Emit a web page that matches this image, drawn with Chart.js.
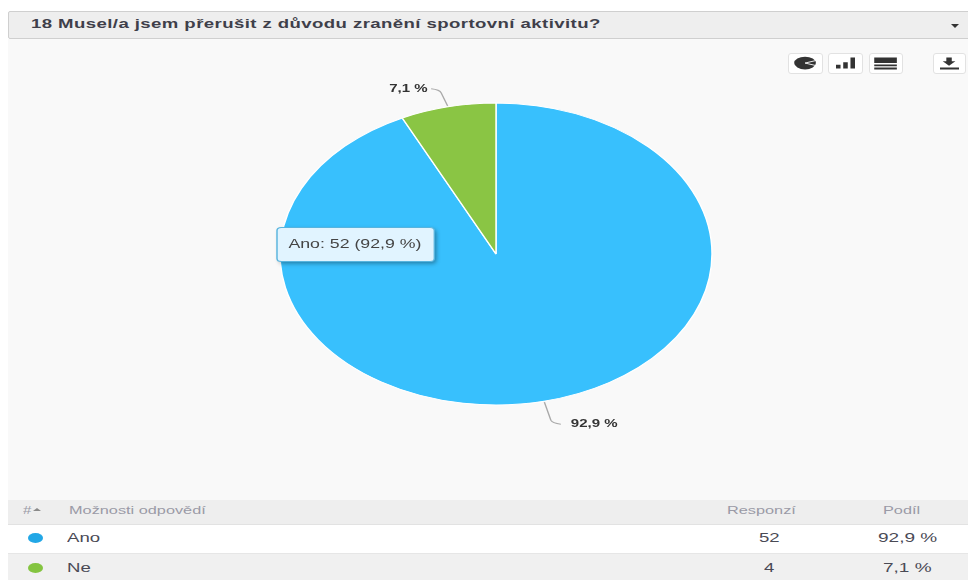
<!DOCTYPE html>
<html lang="cs">
<head>
<meta charset="utf-8">
<title>18 Musel/a jsem přerušit z důvodu zranění sportovní aktivitu?</title>
<script src="https://cdn.jsdelivr.net/npm/chart.js@4"></script>
<style>
  html, body { margin: 0; padding: 0; width: 968px; height: 580px; overflow: hidden; background: #fff; }
  body { position: relative; font-family: "Liberation Sans", Arial, sans-serif; color: #444; }
  .box { position: absolute; }
  .wide { position: absolute; white-space: nowrap; transform: scaleX(1.43); transform-origin: 0 50%; line-height: 16px; }
  #panel { left: 8px; top: 39px; width: 960px; height: 461px; background: #f9f9f9; }
  #head { left: 8px; top: 11px; width: 962px; height: 28px; background: #eeeeee; border: 1px solid #cfcfcf; border-radius: 2px; box-sizing: border-box; }
  #caret { left: 951px; top: 24px; width: 0; height: 0; border: 4px solid transparent; border-top: 4px solid #333; border-bottom: 0; }
  .btn { top: 53px; height: 21px; background: #fff; border: 1px solid #e2e2e2; border-radius: 3px; box-sizing: border-box; }
  .btn svg { display: block; width: 100%; height: 100%; }
  #thead { left: 8px; top: 500px; width: 960px; height: 25px; background: #eeeeee; border-bottom: 1px solid #e2e2e2; box-sizing: border-box; }
  #r0 { left: 8px; top: 525px; width: 960px; height: 29px; background: #fff; border-bottom: 1px solid #e6e6e6; box-sizing: border-box; }
  #r1 { left: 8px; top: 554px; width: 960px; height: 26px; background: #f0f0f0; }
  .dot { position: absolute; width: 15px; height: 10px; border-radius: 50%; }
  canvas { position: absolute; left: 0; top: 0; }
</style>
</head>
<body>
<div class="box" id="panel"></div>
<div class="box" id="head"></div>
<div class="wide" id="qtitle" style="left:31px;top:16px;font-size:13px;font-weight:bold;letter-spacing:0.29px;color:#3f3f4a"></div>
<div class="box" id="caret"></div>

<div class="box btn" style="left:788px;width:35px"><svg viewBox="0 0 35 21"><ellipse cx="17" cy="10" rx="12" ry="7" fill="#333"/><path d="M17 10 L30 7 M17 10 L30 13" stroke="#fff" stroke-width="1"/></svg></div>
<div class="box btn" style="left:828px;width:35px"><svg viewBox="0 0 35 21"><path d="M7 12h5v4H7zM15 9h5v7h-5zM23 4h5v12h-5z" fill="#333"/></svg></div>
<div class="box btn" style="left:869px;width:34px"><svg viewBox="0 0 34 21"><path d="M4 4h25v6H4zM4 11.5h25v2H4zM4 15h25v2H4z" fill="#333"/></svg></div>
<div class="box btn" style="left:933px;width:33px"><svg viewBox="0 0 33 21"><path d="M13 4h6v4h4l-7 5-7-5h4zM6 15h21v2H6z" fill="#333"/></svg></div>

<div class="box" id="thead"></div>
<div class="box" id="r0"></div>
<div class="box" id="r1"></div>
<div id="tableText"></div>

<canvas id="pie" width="968" height="580"></canvas>

<script>
// Survey question and answers
const question = "18 Musel/a jsem přerušit z důvodu zranění sportovní aktivitu?";
const categories = ["Ano", "Ne"];
const responses = [52, 4];
const shares = ["92,9 %", "7,1 %"];
const sliceColors = ["#38c0fd", "#8ac544"];
const dotColors = ["#22a7e6", "#84c440"];
const tableHeaders = ["#", "Možnosti odpovědí", "Responzí", "Podíl"];

// The whole drawing is wider than it is tall by this factor
const STRETCH = 216 / 151;

document.getElementById("qtitle").textContent = question;

// Results table below the chart
const tableText = document.getElementById("tableText");
function addText(text, left, centerY, size, color) {
  const el = document.createElement("div");
  el.className = "wide";
  el.textContent = text;
  el.style.left = left + "px";
  el.style.top = (centerY - 8) + "px";
  el.style.fontSize = size + "px";
  el.style.color = color;
  tableText.appendChild(el);
}
const headColor = "#9a9aa6";
addText(tableHeaders[0], 23, 510, 10.5, headColor);
addText(tableHeaders[1], 69, 510, 11.4, headColor);
addText(tableHeaders[2], 727, 510, 11.4, headColor);
addText(tableHeaders[3], 883, 510, 11.4, headColor);
const sortArrow = document.createElement("div");
sortArrow.className = "box";
sortArrow.style.cssText = "left:33px;top:508px;width:0;height:0;border:4px solid transparent;border-bottom:3px solid #8a8a8a;border-top:0";
tableText.appendChild(sortArrow);

const rowY = [538, 568];
const dotY = [538, 568];
const valueX = [759, 764];
const shareX = [878, 883];
categories.forEach((name, i) => {
  const dot = document.createElement("div");
  dot.className = "dot";
  dot.style.left = "28px";
  dot.style.top = (dotY[i] - 5) + "px";
  dot.style.background = dotColors[i];
  tableText.appendChild(dot);
  addText(name, 67, rowY[i], 13, "#4a4a55");
  addText(String(responses[i]), valueX[i], rowY[i], 13, "#4a4a55");
  addText(shares[i], shareX[i], rowY[i], 13.3, "#4a4a55");
});

// Fixed anchor for the tooltip box
Chart.Tooltip.positioners.fixedSpot = function () {
  return { x: 277 / STRETCH, y: 244.5 };
};

// Applies the horizontal stretch to everything the chart paints
const stretchPlugin = {
  id: "stretch",
  beforeDraw(chart) {
    chart.ctx.save();
    chart.ctx.scale(STRETCH, 1);
  },
  afterDraw(chart) {
    chart.ctx.restore();
  }
};

// Leader lines and share labels beside the slices
const leaderDrop = [21, 16];
const leaderGap = [7, 2.5];
const leaderPlugin = {
  id: "leaders",
  afterDatasetsDraw(chart) {
    const ctx = chart.ctx;
    const arcs = chart.getDatasetMeta(0).data;
    arcs.forEach((arc, i) => {
      const mid = (arc.startAngle + arc.endAngle) / 2;
      const px = arc.x + Math.cos(mid) * (arc.outerRadius + 1);
      const py = arc.y + Math.sin(mid) * (arc.outerRadius + 1);
      const up = Math.sin(mid) < 0;
      const dy = up ? -1 : 1;
      const dir = up ? -1 : 1;
      const cornerX = px + dir * 5.5;
      const cornerY = py + dy * leaderDrop[i];
      const endX = cornerX + dir * 6;
      ctx.save();
      ctx.strokeStyle = "#a9a9a9";
      ctx.lineWidth = 1;
      ctx.beginPath();
      ctx.moveTo(px, py);
      ctx.lineTo(cornerX - dir * 1, cornerY - dy * 3);
      ctx.quadraticCurveTo(cornerX, cornerY, endX, cornerY + dy * 1);
      ctx.stroke();
      ctx.fillStyle = "#333";
      ctx.font = "bold 10.5px 'Liberation Sans', Arial, sans-serif";
      ctx.textBaseline = "middle";
      ctx.textAlign = up ? "right" : "left";
      ctx.fillText(shares[i], endX + dir * leaderGap[i], cornerY + dy * 1);
      ctx.restore();
    });
  },
  // Soft shadow under the tooltip box
  beforeTooltipDraw(chart, args) {
    const t = args.tooltip, ctx = chart.ctx;
    ctx.save();
    ctx.shadowColor = "rgba(0,0,0,0.35)";
    ctx.shadowBlur = 4;
    ctx.shadowOffsetX = 2;
    ctx.shadowOffsetY = 2;
    ctx.fillStyle = "#e1f4ff";
    ctx.beginPath();
    ctx.roundRect(t.x, t.y, t.width, t.height, 3);
    ctx.fill();
    ctx.restore();
  }
};

const chart = new Chart(document.getElementById("pie"), {
  type: "pie",
  data: {
    labels: categories,
    datasets: [{
      data: responses,
      backgroundColor: sliceColors,
      borderColor: "#ffffff",
      borderWidth: 1
    }]
  },
  options: {
    responsive: false,
    animation: false,
    events: [],
    layout: {
      padding: {
        top: 102.5,
        bottom: 174.5,
        left: 496 / STRETCH - 151.5,
        right: 968 - 496 / STRETCH - 151.5
      }
    },
    plugins: {
      legend: { display: false },
      title: { display: false },
      tooltip: {
        enabled: true,
        position: "fixedSpot",
        xAlign: "left",
        yAlign: "center",
        caretSize: 0,
        caretPadding: 0,
        cornerRadius: 3,
        displayColors: false,
        backgroundColor: "#e1f4ff",
        borderColor: "#58b4de",
        borderWidth: 1,
        bodyColor: "#444444",
        bodyFont: { family: "'Liberation Sans', Arial, sans-serif", size: 12.4 },
        padding: { top: 9.5, bottom: 9.5, left: 8, right: 9 },
        callbacks: {
          title: () => "",
          label: (item) => categories[item.dataIndex] + ": " + responses[item.dataIndex] + " (" + shares[item.dataIndex] + ")"
        }
      }
    }
  },
  plugins: [stretchPlugin, leaderPlugin]
});

chart.tooltip.setActiveElements([{ datasetIndex: 0, index: 0 }], { x: 0, y: 0 });
chart.render();
</script>
</body>
</html>
